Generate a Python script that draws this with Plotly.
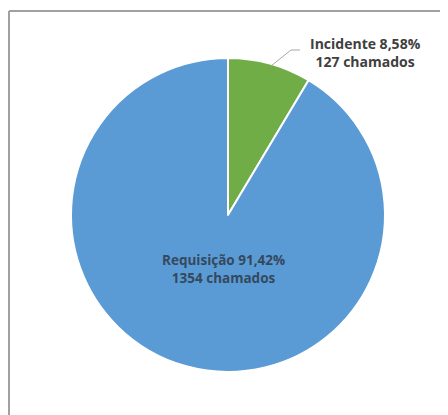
import plotly.graph_objects as go

labels = ["Incidente", "Requisição"]
values = [127, 1354]
percents = ["8,58%", "91,42%"]
colors = ["#70ad47", "#5b9bd5"]

# page body adds an 8px margin; lay out in reference pixel coords minus that
OFF = 8
W, H = 448 - OFF, 415 - OFF

def px(x):
    return (x - OFF) / W

def py(y):
    return 1 - (y - OFF) / H

fig = go.Figure()
fig.add_trace(go.Pie(
    labels=labels,
    values=values,
    sort=False,
    direction="clockwise",
    rotation=0,
    textinfo="none",
    hoverinfo="label+value+percent",
    marker=dict(colors=colors, line=dict(color="white", width=2)),
    domain=dict(x=[px(71), px(385)], y=[py(372), py(58)]),
    showlegend=False,
))

fig.add_annotation(
    x=px(365), y=py(52), xref="paper", yref="paper",
    text=f"<b>{labels[0]} {percents[0]}<br>{values[0]} chamados</b>",
    showarrow=False,
    font=dict(family="Open Sans, Noto Sans, sans-serif", size=14, color="#404040"),
    align="center", xanchor="center", yanchor="middle",
)
fig.add_annotation(
    x=px(223), y=py(269), xref="paper", yref="paper",
    text=f"<b>{labels[1]} {percents[1]}<br>{values[1]} chamados</b>",
    showarrow=False,
    font=dict(family="Open Sans, Noto Sans, sans-serif", size=13.5, color="#34495e"),
    align="center", xanchor="center", yanchor="middle",
)

# leader line
fig.add_shape(type="line", xref="paper", yref="paper",
              x0=px(271), y0=py(66), x1=px(291), y1=py(50),
              line=dict(color="#a6a6a6", width=1))
fig.add_shape(type="line", xref="paper", yref="paper",
              x0=px(291), y0=py(50), x1=px(300), y1=py(50),
              line=dict(color="#a6a6a6", width=1))

# chart border (top and left visible)
fig.add_shape(type="line", xref="paper", yref="paper",
              x0=px(9), y0=py(11), x1=1, y1=py(11),
              line=dict(color="#a0a0a0", width=2))
fig.add_shape(type="line", xref="paper", yref="paper",
              x0=px(9), y0=py(11), x1=px(9), y1=0,
              line=dict(color="#a0a0a0", width=2))

fig.update_layout(
    width=W, height=H,
    margin=dict(l=0, r=0, t=0, b=0),
    paper_bgcolor="white",
    plot_bgcolor="white",
)

fig.write_html("out.html")
